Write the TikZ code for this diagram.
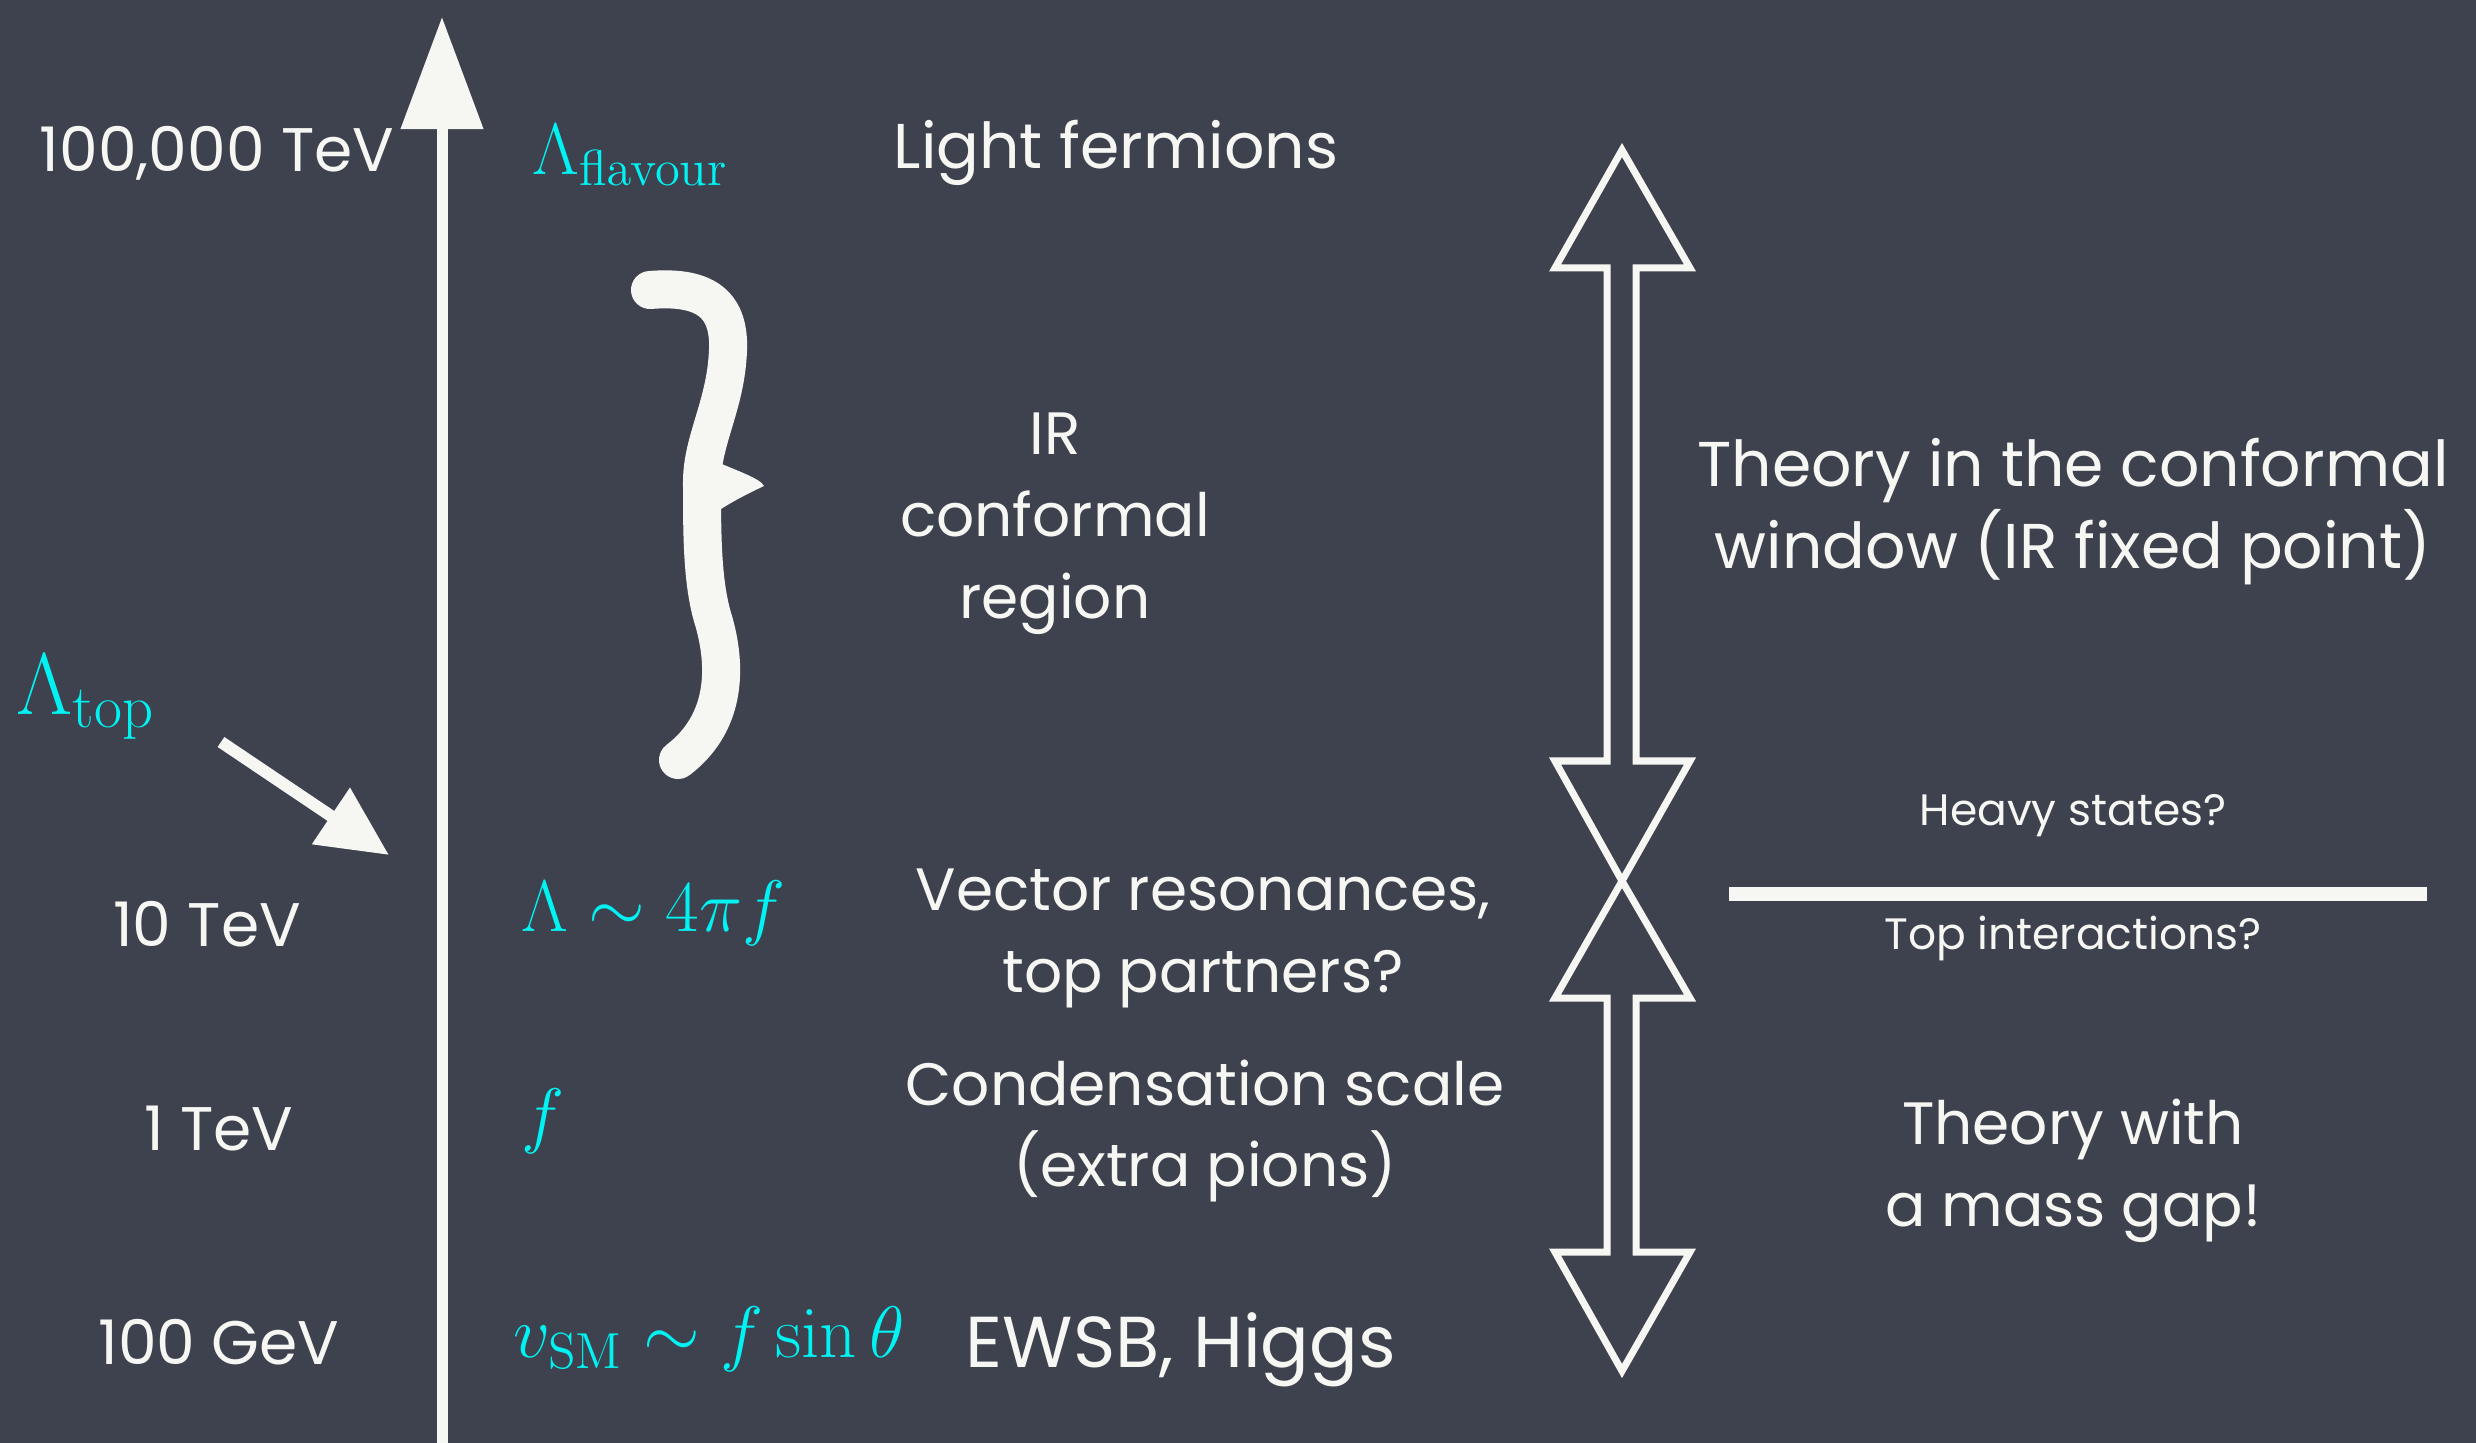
\documentclass[tikz,border=0pt]{standalone}
\usepackage[no-math]{fontspec}
\setmainfont{Poppins}
\usetikzlibrary{arrows.meta,positioning,calc}
\definecolor{board}    {HTML}{3D424E}
\definecolor{chalk}    {HTML}{F6F6F3}
\definecolor{cyanchalk}{HTML}{00F2F2}
\tikzset{
  chalktext/.style ={text=chalk, align=center, inner sep=0pt,
                     font=\fontsize{17}{23.3}\selectfont},
  scaletext/.style ={text=chalk, inner sep=0pt,
                     font=\fontsize{17.5}{20}\selectfont},
  smalltext/.style ={text=chalk, inner sep=0pt,
                     font=\fontsize{12.5}{15}\selectfont},
  mathlabel/.style ={text=cyanchalk, anchor=west, inner sep=0pt,
                     font=\fontsize{20.3}{25}\selectfont},
  axisarr/.style   ={-{Triangle[length=11.2mm,width=8mm]}, draw=chalk, line width=1.1mm},
  pointarr/.style  ={-{Triangle[length=7mm,width=6.5mm]}, draw=chalk, line width=1.2mm},
  hollowarr/.style ={draw=chalk, line width=0.7mm, line join=miter},
  bracechalk/.style={draw=chalk, line width=3.8mm, line cap=round, line join=round},
}

\begin{document}
\begin{tikzpicture}[x=0.01cm,y=-0.01cm]
    \fill[board] (0,0) rectangle (2476,1443);
    \useasboundingbox (0,0) rectangle (2476,1443);

    % energy axis
    \coordinate (axbot) at (442,1443);
    \coordinate (axtop) at (442,17);
    \draw[axisarr] (axbot) -- (axtop);

    \node[scaletext] (s100k) at (217,153) {100,000 TeV};
    \node[scaletext] (s10)   at (207,924) {10 TeV};
    \node[scaletext] (s1)    at (219,1129) {1 TeV};
    \node[scaletext] (s100g) at (219,1342) {100 GeV};

    \node[mathlabel,font=\fontsize{26.5}{30}\selectfont] (ltop) at (16,697) {$\Lambda_{\mathrm{top}}$};
    \coordinate (ptail) at (221,742);
    \coordinate (phead) at (389,855);
    \draw[pointarr] (ptail) -- (phead);

    \node[mathlabel,font=\fontsize{22.5}{26}\selectfont] (lflav) at (532,155) {$\Lambda_{\mathrm{flavour}}$};
    \node[mathlabel] (lfourpi) at (521,913)  {$\Lambda\sim4\pi f$};
    \node[mathlabel] (fscale)  at (521,1121) {$f$};
    \node[mathlabel] (vsm)     at (513,1339) {$v_{\mathrm{SM}}\sim f\sin\theta$};

    \node[chalktext,font=\fontsize{18}{22}\selectfont] (lightf) at (1116,153) {Light fermions};
    \node[chalktext] (irreg)   at (1055,524)  {IR\\conformal\\region};
    \node[chalktext] (vecres)  at (1203,938)  {Vector resonances,\\top partners?};
    \node[chalktext] (condens) at (1205,1131) {Condensation scale\\(extra pions)};
    \node[chalktext,font=\fontsize{20.5}{24}\selectfont] (ewsb) at (1181,1350) {EWSB, Higgs};

    % chalk brace
    \draw[bracechalk] (650,290) .. controls (700,286) and (730,300) .. (728,350)
      .. controls (726,405) and (702,440) .. (702,482)
      .. controls (702,535) and (702,585) .. (714,622)
      .. controls (728,672) and (724,725) .. (678,760);
    \fill[chalk] (700,455) .. controls (735,470) and (760,478) .. (764,486)
      .. controls (745,495) and (725,505) .. (705,520) -- cycle;

    % double arrows
    \coordinate (dtop) at (1622,150);
    \coordinate (dmid) at (1622,881);
    \coordinate (dbot) at (1622,1371);
    \draw[hollowarr] (dtop) -- (1690,268) -- (1636,268) -- (1636,761) -- (1690,761)
      -- (dmid) -- (1555,761) -- (1607,761) -- (1607,268) -- (1555,268) -- cycle;
    \draw[hollowarr] (dmid) -- (1690,998) -- (1636,998) -- (1636,1252) -- (1690,1252)
      -- (dbot) -- (1555,1252) -- (1607,1252) -- (1607,998) -- (1555,998) -- cycle;

    \node[chalktext,font=\fontsize{18}{23.3}\selectfont] (confwin) at (2073,512)
      {Theory in the conformal\\window (IR fixed point)};
    \node[smalltext] (heavy)   at (2073,816)  {Heavy states?};
    \coordinate (sepl) at (1729,894);
    \coordinate (sepr) at (2427,894);
    \draw[draw=chalk, line width=1.3mm] (sepl) -- (sepr);
    \node[smalltext] (topint)  at (2073,938)  {Top interactions?};
    \node[chalktext] (massgap) at (2073,1171) {Theory with\\a mass gap!};
\end{tikzpicture}
\end{document}
